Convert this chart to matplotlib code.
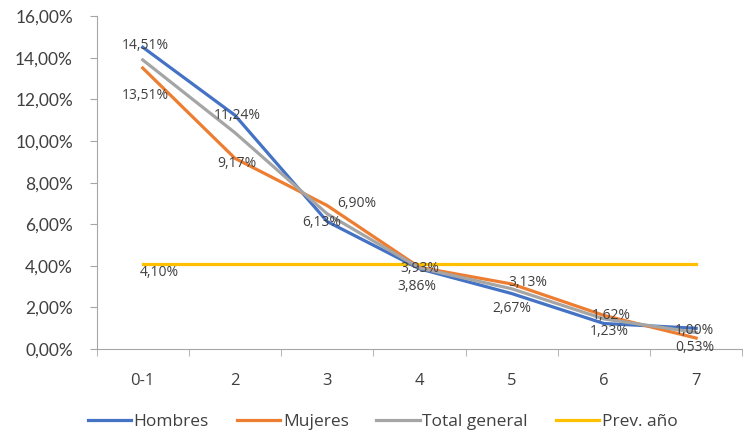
import matplotlib.pyplot as plt
import numpy as np
from matplotlib.ticker import FuncFormatter

categorias = ["0-1", "2", "3", "4", "5", "6", "7"]
hombres = [14.51, 11.24, 6.13, 3.86, 2.67, 1.23, 1.00]
mujeres = [13.51, 9.17, 6.90, 3.93, 3.13, 1.62, 0.53]
total_general = [13.9, 10.4, 6.5, 3.9, 2.9, 1.45, 0.8]
prev_anio = [4.10, 4.10, 4.10, 4.10, 4.10, 4.10, 4.10]

# desplazamiento de etiquetas (pixeles), colocadas a mano como en el original
off_hombres = [(3, 2), (2, 0), (-5, -1), (-3, -18), (0, -15), (5, -8), (-2, -2)]
off_mujeres = [(3, -27), (2, -5), (30, 2), (0, -1), (16, 1), (7, 0), (-1, -9)]
off_prev = (17, -9)

fmt = lambda v: f"{v:.2f}%".replace(".", ",")
txt_font = ["Open Sans", "DejaVu Sans"]

fig = plt.figure(figsize=(7.43, 4.38), dpi=100)
ax = fig.add_axes([0.13, 0.203, 0.869, 0.76])
x = np.arange(len(categorias))

ax.plot(x, hombres, color="#4472C4", lw=2.3, label="Hombres", zorder=3)
ax.plot(x, mujeres, color="#ED7D31", lw=2.3, label="Mujeres", zorder=3)
ax.plot(x, total_general, color="#A5A5A5", lw=2.3, label="Total general", zorder=3)
ax.plot(x, prev_anio, color="#FFC000", lw=2.3, label="Prev. año", zorder=2)

lab = dict(fontsize=10, color="#404040", family=txt_font, ha="center", va="center",
           textcoords="offset pixels", zorder=5)
for i in x:
    ax.annotate(fmt(hombres[i]), (i, hombres[i]), xytext=off_hombres[i], **lab)
    ax.annotate(fmt(mujeres[i]), (i, mujeres[i]), xytext=off_mujeres[i], **lab)
ax.annotate(fmt(prev_anio[0]), (0, prev_anio[0]), xytext=off_prev, **lab)

ax.set_ylim(0, 16)
ax.set_xlim(-0.5, 6.5)
ax.set_yticks(np.arange(0, 16.1, 2))
ax.yaxis.set_major_formatter(FuncFormatter(lambda v, p: fmt(v)))
ax.set_xticks(x)
ax.set_xticklabels(categorias)
ax.set_xticks(np.arange(-0.5, 6.6, 1), minor=True)
ax.tick_params(axis="x", which="major", length=0, pad=17, labelsize=12, labelcolor="#404040")
ax.tick_params(axis="x", which="minor", length=5, color="#a6a6a6")
ax.tick_params(axis="y", length=5, color="#a6a6a6", labelsize=12.5, labelcolor="#404040", pad=12)
for t in ax.get_xticklabels():
    t.set_family(txt_font)
for t in ax.get_yticklabels():
    t.set_family(["Lato", "DejaVu Sans"])

for s in ("top", "right"):
    ax.spines[s].set_visible(False)
ax.spines["left"].set_color("#a6a6a6")
ax.spines["bottom"].set_color("#a6a6a6")

leg = fig.legend(loc="lower center", bbox_to_anchor=(0.515, -0.018), ncol=4, frameon=False,
                 handlelength=2.5, handletextpad=0.15, columnspacing=1.6,
                 prop={"family": txt_font, "size": 12.5})
for t in leg.get_texts():
    t.set_color("#404040")

fig.savefig("out.png", dpi=100)
